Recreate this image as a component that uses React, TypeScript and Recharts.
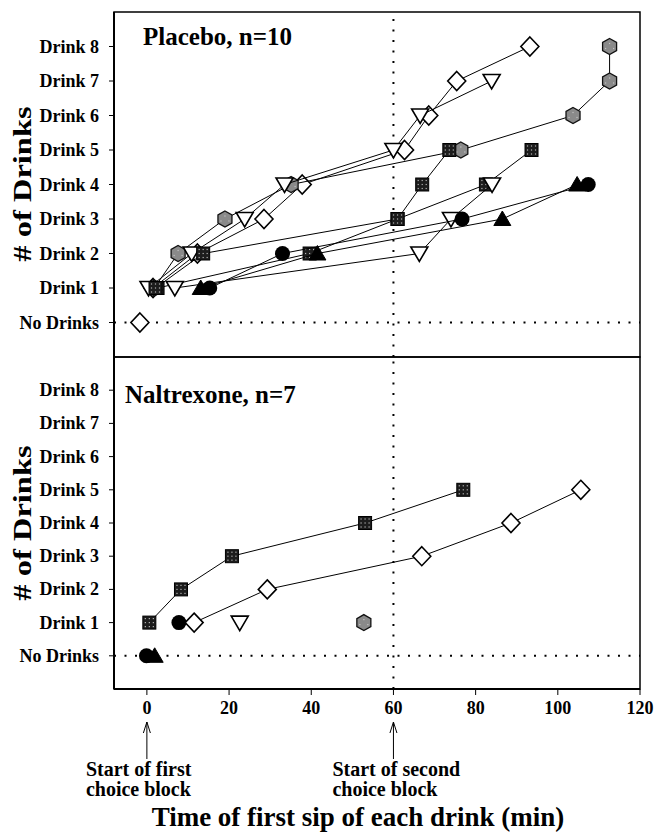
import React from 'react'
import { ScatterChart, Scatter, XAxis, YAxis, ReferenceLine, ReferenceArea } from 'recharts'

const FONT = '"Liberation Serif", "Times New Roman", Times, serif'

const DRINK_TICKS = [0, 1, 2, 3, 4, 5, 6, 7, 8]
const DRINK_LABELS = ['No Drinks', 'Drink 1', 'Drink 2', 'Drink 3', 'Drink 4', 'Drink 5', 'Drink 6', 'Drink 7', 'Drink 8']
const TIME_TICKS = [0, 20, 40, 60, 80, 100, 120]
const BLOCK_NOTES: Record<number, string[]> = {
  0: ['Start of first', 'choice block'],
  60: ['Start of second', 'choice block'],
}

// minutes of first sip of drink 1, 2, 3 ... for each subject
// placebo
const placeboNone = [-1.7] // never drank, sits on "No Drinks"
const placeboDiamond = [1.5, 12.3, 28.5, 37.8, 62.7, 68.6, 75.4, 93.2]
const placeboTriA = [0.4, 10.9, 23.8, 33.5, 60.0, 66.5, 83.9]
const placeboHex = [1.8, 7.6, 19.0, 35.1, 76.4, 103.7, 112.6, 112.6]
const placeboSqA = [2.1, 13.7, 61.0, 67.0, 73.6]
const placeboSqB = [2.6, 39.6, 61.0, 82.5, 93.6]
const placeboTriB = [6.8, 66.3, 74.0, 84.0]
const placeboCircle = [15.3, 33.0, 76.7, 107.4]
const placeboTriUp = [13.1, 41.5, 86.5, 104.7]

// naltrexone
const naltrexSq = [0.6, 8.3, 20.7, 53.1, 77.0]
const naltrexDiamond = [11.5, 29.3, 66.9, 88.6, 105.6]
const naltrexCircle = [7.8]
const naltrexTri = [22.6]
const naltrexHex = [52.8]
const naltrexNoneCircle = [-0.1]
const naltrexNoneTriUp = [1.9]

type Kind = 'diamond' | 'triDown' | 'triUp' | 'hex' | 'square' | 'circle'
type Subject = { times: number[]; first: number; kind: Kind }

// drawn in this order, later ones sit on top
const PLACEBO: Subject[] = [
  { times: placeboNone, first: 0, kind: 'diamond' },
  { times: placeboDiamond, first: 1, kind: 'diamond' },
  { times: placeboHex, first: 1, kind: 'hex' },
  { times: placeboSqB, first: 1, kind: 'square' },
  { times: placeboTriA, first: 1, kind: 'triDown' },
  { times: placeboSqA, first: 1, kind: 'square' },
  { times: placeboTriB, first: 1, kind: 'triDown' },
  { times: placeboCircle, first: 1, kind: 'circle' },
  { times: placeboTriUp, first: 1, kind: 'triUp' },
]

const NALTREXONE: Subject[] = [
  { times: naltrexNoneTriUp, first: 0, kind: 'triUp' },
  { times: naltrexNoneCircle, first: 0, kind: 'circle' },
  { times: naltrexSq, first: 1, kind: 'square' },
  { times: naltrexCircle, first: 1, kind: 'circle' },
  { times: naltrexDiamond, first: 1, kind: 'diamond' },
  { times: naltrexTri, first: 1, kind: 'triDown' },
  { times: naltrexHex, first: 1, kind: 'hex' },
]

const toPoints = (s: Subject) => s.times.map((t, i) => ({ t, n: s.first + i }))

const poly = (list: number[][], cx: number, cy: number) =>
  list.map(([dx, dy]) => `${cx + dx},${cy + dy}`).join(' ')

const DOTS = [-4, 0, 4]

function Marker({ cx, cy, kind }: { cx?: number; cy?: number; kind: Kind }) {
  if (cx == null || cy == null) return null
  if (kind === 'diamond')
    return <polygon points={poly([[0, -9.5], [9, 0], [0, 9.5], [-9, 0]], cx, cy)} fill="#fff" stroke="#000" strokeWidth={1.6} />
  if (kind === 'triDown')
    return <polygon points={poly([[-8.5, -6.5], [8.5, -6.5], [0, 8]], cx, cy)} fill="#fff" stroke="#000" strokeWidth={1.6} />
  if (kind === 'triUp')
    return <polygon points={poly([[-8.5, 6.5], [8.5, 6.5], [0, -8]], cx, cy)} fill="#000" stroke="#000" strokeWidth={1} />
  if (kind === 'circle') return <circle cx={cx} cy={cy} r={7.5} fill="#000" />
  if (kind === 'hex')
    return (
      <g>
        <polygon points={poly([[0, -8], [7, -4], [7, 4], [0, 8], [-7, 4], [-7, -4]], cx, cy)} fill="#8a8a8a" stroke="#111" strokeWidth={1.3} />
        {DOTS.map((dx) => (
          <rect key={dx} x={cx + dx - 0.6} y={cy - 0.6 + (dx === 0 ? -3 : 2)} width={1.2} height={1.2} fill="#c4c4c4" />
        ))}
      </g>
    )
  // square with the speckled fill
  return (
    <g>
      <rect x={cx - 6.5} y={cy - 6.5} width={13} height={13} fill="#1c1c1c" stroke="#000" />
      {DOTS.flatMap((dx) =>
        DOTS.map((dy) => (
          <rect key={`${dx}_${dy}`} x={cx + dx - 0.6} y={cy + dy - 0.6} width={1.2} height={1.2} fill="#b4b4b4" />
        ))
      )}
    </g>
  )
}

function DrinkTick(props: any) {
  const { x, y, payload } = props
  return (
    <text x={x} y={y} dy={6} textAnchor="end" fontFamily={FONT} fontWeight="bold" fontSize={18} fill="#000">
      {DRINK_LABELS[payload.value]}
    </text>
  )
}

function TimeTick(props: any) {
  const { x, y, payload } = props
  const note = BLOCK_NOTES[payload.value]
  return (
    <g>
      <text x={x} y={y} dy={17} textAnchor="middle" fontFamily={FONT} fontWeight="bold" fontSize={18} fill="#000">
        {payload.value}
      </text>
      {note && (
        <g>
          <line x1={x} y1={y + 25} x2={x} y2={y + 62} stroke="#000" strokeWidth={1} />
          <polyline points={`${x - 3.5},${y + 36} ${x},${y + 25} ${x + 3.5},${y + 36}`} fill="none" stroke="#000" strokeWidth={1} />
          {note.map((line, i) => (
            <text key={i} x={x - 61} y={y + 79 + i * 20} fontFamily={FONT} fontWeight="bold" fontSize={20} fill="#000">
              {line}
            </text>
          ))}
        </g>
      )}
    </g>
  )
}

function renderSubjects(subjects: Subject[], prefix: string) {
  return subjects.map((s, i) => (
    <Scatter
      key={`${prefix}-${i}`}
      data={toPoints(s)}
      shape={(p: any) => <Marker cx={p.cx} cy={p.cy} kind={s.kind} />}
      line={s.times.length > 1 ? { stroke: '#000', strokeWidth: 1 } : false}
      lineType="joint"
      isAnimationActive={false}
    />
  ))
}

const dotted = { stroke: '#000', strokeWidth: 2, strokeDasharray: '2 8.5' }

export default function App() {
  return (
    <div style={{ position: 'absolute', left: 0, top: 0, width: 655, height: 834, background: '#fff', overflow: 'hidden' }}>
      {/* Placebo */}
      <div style={{ position: 'absolute', left: 0, top: 0 }}>
        <ScatterChart width={655} height={365} margin={{ top: 12, right: 15, bottom: 4, left: 0 }}>
          <XAxis
            type="number"
            dataKey="t"
            domain={[-8, 120]}
            ticks={TIME_TICKS}
            height={4}
            tick={false}
            tickSize={4}
            tickLine={{ stroke: '#000' }}
            axisLine={false}
            interval={0}
          />
          <YAxis
            type="number"
            dataKey="n"
            domain={[-1, 9]}
            ticks={DRINK_TICKS}
            width={114}
            tick={<DrinkTick />}
            tickSize={5}
            tickMargin={10}
            tickLine={{ stroke: '#000' }}
            axisLine={{ stroke: '#000', strokeWidth: 2 }}
            interval={0}
          />
          <ReferenceArea x1={-8} x2={120} y1={-1} y2={9} fill="none" fillOpacity={0} stroke="#000" strokeWidth={1.5} />
          <ReferenceLine x={60} {...dotted} />
          <ReferenceLine y={0} {...dotted} />
          {renderSubjects(PLACEBO, 'p')}
        </ScatterChart>
      </div>

      {/* Naltrexone */}
      <div style={{ position: 'absolute', left: 0, top: 350 }}>
        <ScatterChart width={655} height={484} margin={{ top: 7, right: 15, bottom: 0, left: 0 }}>
          <XAxis
            type="number"
            dataKey="t"
            domain={[-8, 120]}
            ticks={TIME_TICKS}
            height={145}
            tick={<TimeTick />}
            tickSize={6}
            tickMargin={2}
            tickLine={{ stroke: '#000' }}
            axisLine={{ stroke: '#000', strokeWidth: 2 }}
            interval={0}
          />
          <YAxis
            type="number"
            dataKey="n"
            domain={[-1, 9]}
            ticks={DRINK_TICKS}
            width={114}
            tick={<DrinkTick />}
            tickSize={5}
            tickMargin={10}
            tickLine={{ stroke: '#000' }}
            axisLine={{ stroke: '#000', strokeWidth: 2 }}
            interval={0}
          />
          <ReferenceArea x1={-8} x2={120} y1={-1} y2={9} fill="none" fillOpacity={0} stroke="#000" strokeWidth={1.5} />
          <ReferenceLine x={60} {...dotted} />
          <ReferenceLine y={0} {...dotted} />
          {renderSubjects(NALTREXONE, 'n')}
        </ScatterChart>
      </div>

      {/* titles */}
      <svg width={655} height={834} style={{ position: 'absolute', left: 0, top: 0, pointerEvents: 'none' }}>
        <g fontFamily={FONT} fontWeight="bold" fill="#000">
          <text x={143} y={45} fontSize={25}>Placebo, n=10</text>
          <text x={125} y={403} fontSize={25}>Naltrexone, n=7</text>
          <text transform="translate(31,184) rotate(-90) scale(1.25,1)" textAnchor="middle" fontSize={26}># of Drinks</text>
          <text transform="translate(31,523) rotate(-90) scale(1.25,1)" textAnchor="middle" fontSize={26}># of Drinks</text>
          <text x={358} y={826} textAnchor="middle" fontSize={27}>Time of first sip of each drink (min)</text>
        </g>
      </svg>
    </div>
  )
}
